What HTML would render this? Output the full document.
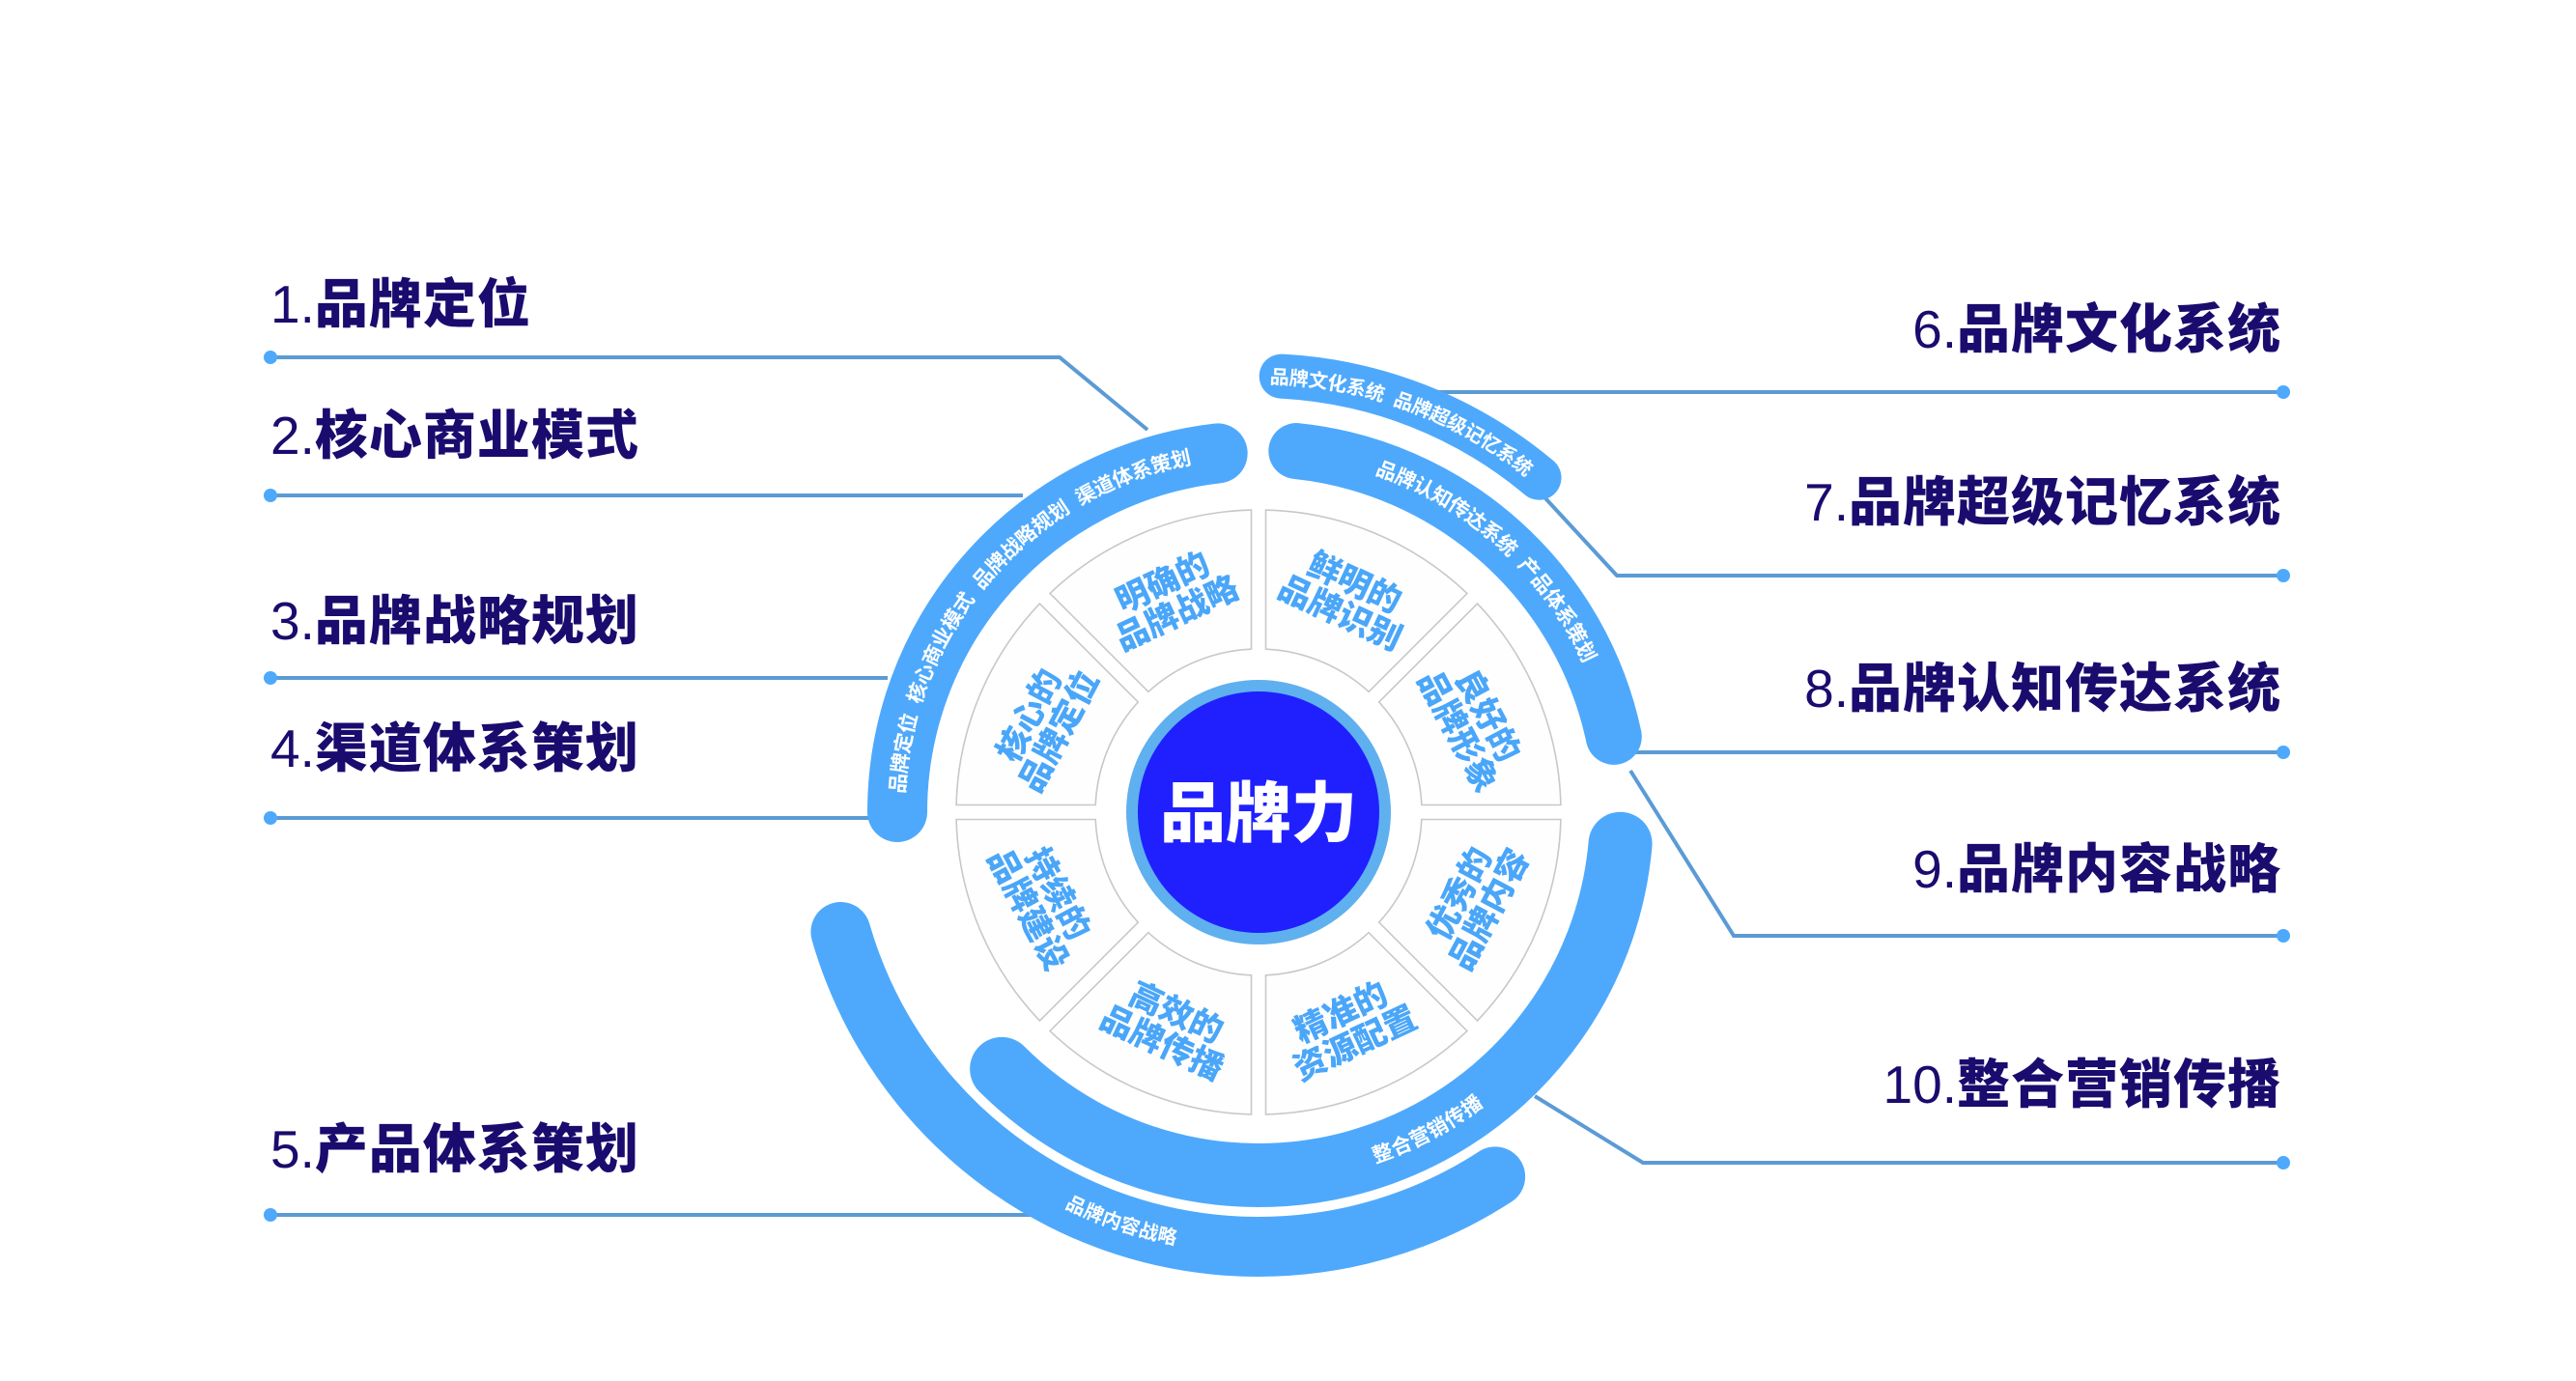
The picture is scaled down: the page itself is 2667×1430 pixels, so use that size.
<!DOCTYPE html>
<html><head><meta charset="utf-8">
<style>
html,body{margin:0;padding:0;background:#fff;}
body{width:2667px;height:1430px;position:relative;overflow:hidden;font-family:"Liberation Sans","Noto Sans CJK SC",sans-serif;}
.lb{position:absolute;font-size:55px;line-height:62px;color:#1a0b6e;font-weight:900;letter-spacing:1px;white-space:nowrap;font-family:"Liberation Sans","Noto Sans CJK SC",sans-serif;}
.lb span{font-weight:400;letter-spacing:0;}
.r{text-align:right;right:305px;}
svg{position:absolute;left:0;top:0;}
</style></head><body>
<svg id="s" width="2667" height="1430" viewBox="0 0 2667 1430" xmlns="http://www.w3.org/2000/svg">
<g fill="none" stroke="#5b9bd5" stroke-width="4">
<polyline points="279,370 1097,370 1188,445"/>
<polyline points="279,513 1059,513"/>
<polyline points="279,702 919,702"/>
<polyline points="279,847 900,847"/>
<polyline points="280,1258 1119,1258"/>
<polyline points="1484,406 2364,406"/>
<polyline points="1588,503 1674,596 2364,596"/>
<polyline points="1682,779 2364,779"/>
<polyline points="1688,798 1795,969 2364,969"/>
<polyline points="1589,1135 1701,1204 2364,1204"/>
</g>
<g fill="#4ea9fc">
<circle cx="280" cy="370" r="7"/><circle cx="280" cy="513" r="7"/><circle cx="280" cy="702" r="7"/><circle cx="280" cy="847" r="7"/><circle cx="280" cy="1258" r="7"/>
<circle cx="2364" cy="406" r="7"/><circle cx="2364" cy="596" r="7"/><circle cx="2364" cy="779" r="7"/><circle cx="2364" cy="969" r="7"/><circle cx="2364" cy="1204" r="7"/>
</g>
<g id="g"></g>
</svg>
<div class="lb" style="left:280px;top:284px"><span>1.</span>品牌定位</div>
<div class="lb" style="left:280px;top:420px"><span>2.</span>核心商业模式</div>
<div class="lb" style="left:280px;top:612px"><span>3.</span>品牌战略规划</div>
<div class="lb" style="left:280px;top:744px"><span>4.</span>渠道体系策划</div>
<div class="lb" style="left:280px;top:1159px"><span>5.</span>产品体系策划</div>
<div class="lb r" style="top:310px"><span>6.</span>品牌文化系统</div>
<div class="lb r" style="top:489px"><span>7.</span>品牌超级记忆系统</div>
<div class="lb r" style="top:682px"><span>8.</span>品牌认知传达系统</div>
<div class="lb r" style="top:869px"><span>9.</span>品牌内容战略</div>
<div class="lb r" style="top:1092px"><span>10.</span>整合营销传播</div>
<script>
var cx=1303,cy=841,D=Math.PI/180,NS="http://www.w3.org/2000/svg";
var g=document.getElementById('g');
function P(r,a){return [(cx+r*Math.cos(a*D)).toFixed(2),(cy-r*Math.sin(a*D)).toFixed(2)];}
function el(t,at,txt){var e=document.createElementNS(NS,t);for(var k in at)e.setAttribute(k,at[k]);if(txt)e.textContent=txt;g.appendChild(e);return e;}
function arcD(r,a1,a2){var p1=P(r,a1),p2=P(r,a2);var sw=a1>a2?1:0;var lg=Math.abs(a1-a2)>180?1:0;return "M"+p1.join(",")+" A"+r+" "+r+" 0 "+lg+" "+sw+" "+p2.join(",");}
var ri=169,ro=313,h=7.5;
for(var k=0;k<8;k++){var a=45*k,b=a+45,di=Math.asin(h/ri)/D,dd=Math.asin(h/ro)/D;
var p1=P(ri,a+di),p2=P(ro,a+dd),p3=P(ro,b-dd),p4=P(ri,b-di);
el('path',{d:"M"+p1+" L"+p2+" A"+ro+" "+ro+" 0 0 0 "+p3+" L"+p4+" A"+ri+" "+ri+" 0 0 1 "+p1+" Z",fill:"#fefefe",stroke:"#c8c8c8","stroke-width":"1.6"});}
el('circle',{cx:cx,cy:cy,r:137,fill:"#5fb0ee"});
el('circle',{cx:cx,cy:cy,r:125,fill:"#2020ff"});
el('text',{x:cx,y:cy+2,"text-anchor":"middle","dominant-baseline":"central","font-size":"68","font-weight":"900",fill:"#fff","font-family":"Liberation Sans, Noto Sans CJK SC, sans-serif"},"品牌力");
var st=[[22.5,62,"良好的","品牌形象"],[67.5,25,"鲜明的","品牌识别"],[112.5,-25,"明确的","品牌战略"],[157.5,-62,"核心的","品牌定位"],
[202.5,62,"持续的","品牌建设"],[247.5,25,"高效的","品牌传播"],[292.5,-25,"精准的","资源配置"],[337.5,-62,"优秀的","品牌内容"]];
st.forEach(function(s){var p=P(241,s[0]);var t=el('text',{transform:"translate("+p[0]+","+p[1]+") rotate("+s[1]+")","text-anchor":"middle","font-size":"34","font-weight":"900",fill:"#4aa6f9","font-family":"Liberation Sans, Noto Sans CJK SC, sans-serif"});
var t1=document.createElementNS(NS,'tspan');t1.setAttribute('x',0);t1.setAttribute('y',-5);t1.textContent=s[2];t.appendChild(t1);
var t2=document.createElementNS(NS,'tspan');t2.setAttribute('x',0);t2.setAttribute('y',30);t2.textContent=s[3];t.appendChild(t2);});
var arcs=[[374,62,180,96.5],[452,46,87,50],[376,58,84,12],[376,66,-5,-135],[450,62,-164,-57]];
arcs.forEach(function(a){el('path',{d:arcD(a[0],a[2],a[3]),fill:"none",stroke:"#4ea9fc","stroke-width":a[1],"stroke-linecap":"round"});});
var at=[[374,177,100,"品牌定位  核心商业模式  品牌战略规划  渠道体系策划",21,0],
[450,88.5,50,"品牌文化系统  品牌超级记忆系统",20,0],
[377,71,20,"品牌认知传达系统  产品体系策划",21,0],
[376,-78,-46,"整合营销传播",21,1],
[450,-122,-95,"品牌内容战略",20,1]];
at.forEach(function(a,i){var id="tp"+i;el('path',{id:id,d:arcD(a[0],a[1],a[2]),fill:"none"});
var t=el('text',{"font-size":a[4],"font-weight":"700",fill:"#fff","font-family":"Liberation Sans, Noto Sans CJK SC, sans-serif","dominant-baseline":"central"});
var tp=document.createElementNS(NS,'textPath');tp.setAttribute('href','#'+id);
if(a[5]){tp.setAttribute('startOffset','50%');t.setAttribute('text-anchor','middle');}
tp.textContent=a[3];t.appendChild(tp);t.style.whiteSpace="pre";});
</script>
</body></html>
